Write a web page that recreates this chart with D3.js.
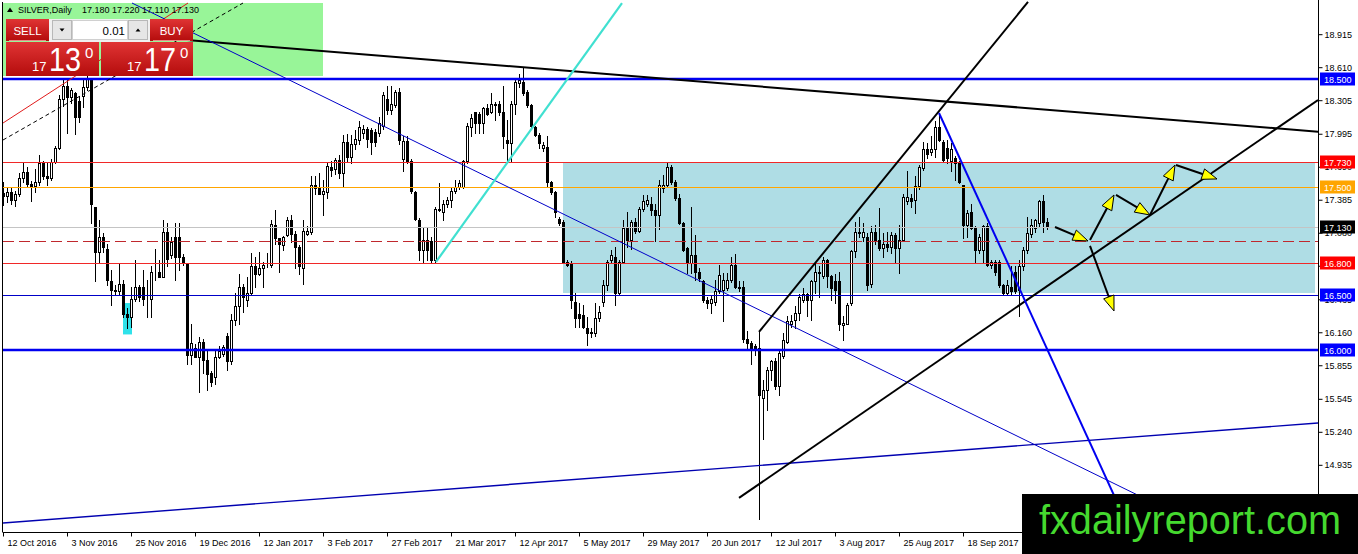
<!DOCTYPE html>
<html>
<head>
<meta charset="utf-8">
<script src="https://cdn.jsdelivr.net/npm/d3@7"></script>
<style>
html,body{margin:0;padding:0;background:#fff;overflow:hidden}
svg{display:block}
</style>
</head>
<body>
<div id="chart"></div>
<script>
// header
const symbolName = 'SILVER,Daily';
const quote = ['17.180', '17.220', '17.110', '17.130'];
const lotSize = '0.01';
const sellPrice = ['17', '13', '0'];
const buyPrice = ['17', '17', '0'];

// x axis: bar index of each date label
const dateBars = [0, 16, 32, 48, 64, 80, 96, 112, 128, 144, 160, 176, 192, 208, 224, 240];
const dateLabels = ['12 Oct 2016', '3 Nov 2016', '25 Nov 2016', '19 Dec 2016', '12 Jan 2017', '3 Feb 2017',
	'27 Feb 2017', '21 Mar 2017', '12 Apr 2017', '5 May 2017', '29 May 2017', '20 Jun 2017',
	'12 Jul 2017', '3 Aug 2017', '25 Aug 2017', '18 Sep 2017'];

// y axis
const priceTicks = [18.915, 18.610, 18.305, 17.995, 17.690, 17.385, 17.080, 16.775, 16.465,
	16.160, 15.855, 15.545, 15.240, 14.935, 14.630];

// daily candles
const open = [
17.45,17.42,17.46,17.38,17.44,17.59,17.64,17.53,17.51,17.55,
17.72,17.60,17.59,17.73,17.86,18.32,18.44,18.33,18.37,18.30,
18.34,18.43,18.49,17.32,16.90,17.04,16.93,16.63,16.55,16.54,
16.61,16.33,16.30,16.47,16.58,16.58,16.47,16.47,16.72,16.72,
16.67,17.09,16.87,17.04,17.04,16.86,16.80,15.95,16.01,15.93,
16.07,15.90,15.78,15.75,15.93,15.96,16.13,15.89,16.27,16.40,
16.58,16.46,16.52,16.77,16.70,16.75,16.78,16.78,17.15,17.03,
16.97,17.06,17.20,17.07,16.95,16.75,17.07,17.09,17.52,17.49,
17.44,17.46,17.69,17.67,17.75,17.63,17.92,17.78,17.90,17.94,
18.00,18.04,18.03,18.01,18.00,18.07,18.32,18.21,18.26,18.38,
17.76,17.93,17.74,17.46,17.20,16.92,17.01,17.00,16.83,17.30,
17.27,17.35,17.38,17.47,17.50,17.50,17.74,18.06,18.20,18.18,
18.09,18.23,18.20,18.26,18.27,18.20,17.94,17.91,18.27,18.46,
18.475,18.38,18.26,18.06,17.98,17.86,17.87,17.55,17.46,17.21,
17.18,16.81,16.80,16.44,16.33,16.32,16.20,16.15,16.15,16.29,
16.44,16.60,16.83,16.86,16.52,16.81,17.12,17.01,17.18,17.10,
17.30,17.35,17.35,17.29,17.24,17.49,17.52,17.69,17.55,17.40,
17.17,16.94,16.80,16.87,16.72,16.63,16.46,16.43,16.44,16.54,
16.55,16.57,16.64,16.78,16.58,16.58,16.10,16.06,16.03,16.01,
15.55,15.63,15.81,15.89,15.66,15.94,16.07,16.24,16.27,16.34,
16.46,16.51,16.46,16.63,16.71,16.68,16.83,16.68,16.63,16.63,
16.23,16.24,16.43,16.91,17.08,17.04,17.04,16.61,17.09,17.01,
16.94,16.98,16.95,17.06,16.94,17.01,17.37,17.40,17.38,17.51,
17.68,17.85,17.83,17.85,18.06,17.92,17.86,17.74,17.77,17.72,
17.52,17.15,17.27,17.12,16.92,16.92,17.14,16.78,16.81,16.81,
16.60,16.52,16.58,16.72,16.55,16.77,16.92,17.07,17.12,17.17,
17.37,17.18];
const high = [
17.55,17.50,17.50,17.47,17.63,17.73,17.69,17.56,17.67,17.80,
17.74,17.72,17.76,17.88,18.35,18.50,18.49,18.42,18.38,18.34,
18.49,18.55,18.51,17.32,17.20,17.08,16.98,16.74,16.60,16.80,
16.64,16.38,16.58,16.83,16.60,16.74,16.64,16.77,16.93,16.83,
17.20,17.17,17.04,17.17,17.17,16.88,16.80,16.24,16.05,16.12,
16.10,15.99,15.80,15.99,16.03,16.04,16.15,16.33,16.52,16.70,
16.61,16.67,16.89,16.86,16.90,16.81,16.89,17.20,17.29,17.03,
17.05,17.23,17.24,17.10,16.97,17.20,17.14,17.60,17.60,17.63,
17.57,17.72,17.74,17.77,17.80,17.98,17.99,17.98,18.03,18.11,
18.08,18.06,18.05,18.04,18.15,18.38,18.44,18.44,18.40,18.42,
17.97,17.97,17.76,17.47,17.22,17.12,17.12,17.04,17.32,17.54,
17.38,17.41,17.50,17.57,17.57,17.75,18.09,18.18,18.20,18.20,
18.24,18.27,18.37,18.29,18.30,18.44,18.12,18.30,18.51,18.55,
18.61,18.40,18.27,18.07,18.00,17.92,17.97,17.56,17.47,17.23,
17.20,16.83,16.82,16.52,16.43,16.41,16.30,16.20,16.43,16.40,
16.64,16.83,16.92,16.95,16.83,17.20,17.27,17.20,17.22,17.32,
17.43,17.43,17.41,17.35,17.57,17.61,17.72,17.71,17.57,17.44,
17.18,16.95,17.32,17.06,16.75,16.64,16.49,16.50,16.64,16.78,
16.71,16.71,16.86,16.88,16.63,16.63,16.17,16.08,16.05,16.17,
15.72,15.84,15.90,15.92,16.00,16.15,16.31,16.32,16.40,16.51,
16.57,16.52,16.64,16.80,16.77,16.86,16.84,16.69,16.70,16.72,
16.31,16.43,16.92,17.18,17.23,17.17,17.08,17.14,17.15,17.31,
17.08,17.09,17.09,17.08,17.15,17.44,17.65,17.44,17.60,17.71,
17.92,17.91,17.97,18.11,18.18,17.94,17.94,17.91,17.79,17.74,
17.52,17.29,17.35,17.14,17.07,17.15,17.17,16.83,16.83,16.83,
16.61,16.64,16.77,16.77,16.83,16.95,17.23,17.21,17.21,17.38,
17.43,17.22];
const low = [
17.34,17.36,17.35,17.33,17.42,17.55,17.50,17.37,17.46,17.52,
17.58,17.52,17.57,17.72,17.85,18.25,18.00,18.28,17.99,18.10,
18.24,18.40,17.17,16.63,16.80,16.90,16.60,16.41,16.50,16.50,
16.30,16.20,16.21,16.45,16.45,16.41,16.30,16.30,16.64,16.67,
16.67,16.77,16.85,16.64,16.74,16.78,15.87,15.87,15.93,15.61,
15.78,15.63,15.66,15.68,15.92,15.94,15.81,15.87,16.23,16.24,
16.35,16.40,16.50,16.58,16.69,16.58,16.76,16.76,16.98,16.72,
16.92,17.05,16.99,16.75,16.70,16.61,17.06,17.07,17.44,17.44,
17.24,17.40,17.60,17.62,17.59,17.50,17.74,17.72,17.85,17.90,
17.96,17.87,17.81,17.88,17.97,18.04,18.18,18.18,18.24,17.90,
17.65,17.72,17.45,17.20,16.83,16.80,16.83,16.80,16.80,17.28,
17.20,17.32,17.32,17.45,17.48,17.49,17.72,17.97,18.00,18.00,
18.00,18.17,18.19,18.12,18.17,17.86,17.74,17.74,18.18,18.43,
18.35,18.24,18.06,17.97,17.86,17.84,17.50,17.44,17.23,17.15,
16.80,16.77,16.38,16.21,16.21,16.20,16.04,16.12,16.13,16.26,
16.40,16.55,16.80,16.41,16.50,16.80,16.95,16.93,17.08,17.09,
17.28,17.33,17.24,17.00,17.11,17.46,17.50,17.53,17.38,17.16,
16.91,16.71,16.71,16.64,16.63,16.44,16.38,16.34,16.41,16.52,
16.26,16.55,16.62,16.57,16.54,16.07,16.01,15.87,15.95,14.43,
15.17,15.44,15.72,15.64,15.58,15.92,16.06,16.21,16.20,16.27,
16.44,16.31,16.27,16.52,16.49,16.66,16.58,16.46,16.43,16.18,
16.09,16.24,16.41,16.86,17.04,17.00,16.55,16.58,16.98,16.92,
16.86,16.91,16.89,16.80,16.71,17.00,17.35,17.32,17.26,17.48,
17.66,17.77,17.80,17.78,17.93,17.74,17.72,17.65,17.57,17.54,
17.03,17.04,17.11,16.81,16.89,16.80,16.77,16.75,16.69,16.58,
16.50,16.50,16.51,16.52,16.31,16.74,16.89,17.04,17.09,17.14,
17.09,17.11];
const close = [
17.42,17.46,17.38,17.44,17.59,17.64,17.53,17.51,17.55,17.72,
17.60,17.59,17.73,17.86,18.32,18.44,18.33,18.40,18.15,18.15,
18.43,18.51,17.35,16.90,17.04,16.95,16.64,16.55,16.54,16.61,
16.33,16.30,16.47,16.58,16.49,16.47,16.47,16.72,16.72,16.67,
17.09,16.84,16.99,16.86,16.86,16.80,15.95,16.06,15.93,16.07,
15.90,15.77,15.70,15.93,15.99,16.02,15.89,16.27,16.40,16.58,
16.49,16.52,16.77,16.70,16.75,16.78,16.78,17.16,17.03,16.98,
17.04,17.20,17.07,16.95,16.77,17.10,17.10,17.52,17.49,17.44,
17.47,17.70,17.66,17.75,17.63,17.92,17.78,17.90,17.95,18.06,
18.04,17.95,17.92,17.92,18.09,18.35,18.21,18.27,18.38,17.94,
17.93,17.74,17.47,17.21,16.92,17.01,16.92,16.83,17.30,17.29,
17.35,17.38,17.47,17.50,17.54,17.74,18.07,18.14,18.09,18.09,
18.23,18.18,18.27,18.27,18.20,17.97,17.91,18.27,18.475,18.49,
18.37,18.26,18.07,17.98,17.905,17.89,17.55,17.46,17.27,17.17,
16.81,16.78,16.46,16.29,16.29,16.21,16.15,16.165,16.29,16.35,
16.60,16.81,16.87,16.52,16.81,17.12,17.01,17.18,17.10,17.30,
17.37,17.38,17.29,17.24,17.52,17.52,17.69,17.55,17.40,17.17,
16.92,16.80,16.87,16.72,16.66,16.46,16.43,16.47,16.54,16.69,
16.64,16.64,16.78,16.58,16.57,16.10,16.06,16.01,16.01,15.58,
15.63,15.81,15.89,15.66,15.97,16.09,16.26,16.26,16.34,16.49,
16.51,16.46,16.63,16.72,16.72,16.83,16.68,16.57,16.55,16.24,
16.25,16.41,16.91,17.09,17.09,17.09,16.60,17.09,17.01,16.94,
16.98,16.95,17.06,16.94,17.01,17.41,17.41,17.37,17.51,17.69,
17.85,17.81,17.85,18.06,17.94,17.75,17.77,17.85,17.72,17.55,
17.15,17.26,17.12,16.92,17.04,17.14,16.78,16.81,16.72,16.60,
16.52,16.60,16.54,16.54,16.77,16.92,17.08,17.15,17.20,17.37,
17.18,17.13];

// horizontal levels and their price tags
const levels = [18.5, 17.73, 17.5, 17.13, 17.0, 16.8, 16.5, 16.0];
const tagLevels = [18.5, 17.73, 17.5, 17.13, 16.8, 16.5, 16.0];

// rectangles [bar0, bar1, priceLow, priceHigh]
const zoneBox = [140, 328, 16.523, 17.73];
const markBox = [30, 32.25, 16.14, 16.43];

// trend lines [[bar, price], [bar, price]]
const trendLines = [
	[[40, 18.879], [328.75, 18.014]],
	[[0, 18.094], [46.25, 19.203]],
	[[0, 17.937], [60, 19.203]],
	[[32.25, 19.203], [300, 14.36]],
	[[0, 14.397], [328.75, 15.322]],
	[[108.25, 16.81], [154.75, 19.203]],
	[[189, 16.163], [256.25, 19.213]],
	[[184, 14.629], [328.75, 18.307]],
	[[234, 18.187], [282, 14.31]]
];

// forecast arrows
const arrows = [
	[[263, 17.133], [271.25, 17.004]],
	[[271.75, 17.013], [277.75, 17.429]],
	[[278.25, 17.429], [286.75, 17.244]],
	[[286.75, 17.244], [293, 17.706]],
	[[293.25, 17.706], [303.5, 17.577]],
	[[271.75, 16.958], [277.75, 16.357]]
];

const logoText = 'fxdailyreport.com';

const W = 1358, H = 554;
const FONT = '"Liberation Sans", Arial, sans-serif';
const plot = {l: 3, r: 1318, t: 1, b: 532};

const x = d3.scaleLinear().domain([0, 328.75]).range([3, 1318]);
const y = d3.scaleLinear().domain([14.63, 18.915]).range([497.8, 34.2]);

const svg = d3.select('#chart').append('svg')
	.attr('width', W)
	.attr('height', H)
	.style('font-family', FONT);

const defs = svg.append('defs');
defs.append('clipPath').attr('id', 'plotclip')
	.append('rect')
	.attr('x', plot.l).attr('y', plot.t)
	.attr('width', plot.r - plot.l).attr('height', plot.b - plot.t);
const grad = defs.append('linearGradient').attr('id', 'redgrad')
	.attr('x1', 0).attr('y1', 0).attr('x2', 0).attr('y2', 1);
grad.append('stop').attr('offset', 0).attr('stop-color', '#e03434');
grad.append('stop').attr('offset', 1).attr('stop-color', '#b40c0c');

svg.append('rect').attr('width', W).attr('height', H).attr('fill', '#fff');

const g = svg.append('g').attr('clip-path', 'url(#plotclip)');

// green header background
g.append('rect')
	.attr('x', 3).attr('y', 3).attr('width', 320).attr('height', 73)
	.attr('fill', '#98f598');

// rectangles
function box(b, fill){
	g.append('rect')
		.attr('x', x(b[0]))
		.attr('y', y(b[3]))
		.attr('width', x(b[1]) - x(b[0]))
		.attr('height', y(b[2]) - y(b[3]))
		.attr('fill', fill);
}
box(zoneBox, '#afdde5');
box(markBox, '#2fe2ea');

// candles
const n = Math.min(open.length, high.length, low.length, close.length);
const bars = d3.range(n).map(i => ({i: i, o: open[i], h: high[i], l: low[i], c: close[i]}));

const candles = g.append('g').attr('class', 'candles')
	.selectAll('g')
	.data(bars)
	.join('g');

candles.append('line')
	.attr('x1', d => Math.round(x(d.i)) + 0.5)
	.attr('x2', d => Math.round(x(d.i)) + 0.5)
	.attr('y1', d => Math.round(y(d.h)))
	.attr('y2', d => Math.round(y(d.l)) + 1)
	.attr('stroke', '#000')
	.attr('stroke-width', 1);

candles.append('rect')
	.attr('x', d => Math.round(x(d.i)) - 0.5)
	.attr('y', d => Math.round(y(Math.max(d.o, d.c))) + 0.5)
	.attr('width', 2)
	.attr('height', d => Math.max(Math.round(y(Math.min(d.o, d.c))) - Math.round(y(Math.max(d.o, d.c))), 0))
	.attr('fill', d => d.c >= d.o ? '#fff' : '#000')
	.attr('stroke', '#000')
	.attr('stroke-width', 1);

// horizontal levels
const levelStyle = [
	{c: '#0000f0', w: 2.5},
	{c: '#f02828', w: 1},
	{c: '#ffa500', w: 1},
	{c: '#c4c4c4', w: 1},
	{c: '#c0282d', w: 1, dash: '11,5'},
	{c: '#f02828', w: 1},
	{c: '#0000c8', w: 1},
	{c: '#0000f0', w: 2.5}
];
g.append('g').selectAll('line')
	.data(levels)
	.join('line')
	.attr('x1', plot.l)
	.attr('x2', plot.r)
	.attr('y1', (d, i) => Math.round(y(d)) + (levelStyle[i].w === 1 ? 0.5 : 0))
	.attr('y2', (d, i) => Math.round(y(d)) + (levelStyle[i].w === 1 ? 0.5 : 0))
	.attr('stroke', (d, i) => levelStyle[i].c)
	.attr('stroke-width', (d, i) => levelStyle[i].w)
	.attr('stroke-dasharray', (d, i) => levelStyle[i].dash || null);

// trend lines
const lineStyle = [
	{c: '#000', w: 2},
	{c: '#e01a1a', w: 1},
	{c: '#000', w: 1, dash: '4,3'},
	{c: '#0000c8', w: 1},
	{c: '#0000b0', w: 1.4},
	{c: '#40e0d0', w: 2.2},
	{c: '#000', w: 2},
	{c: '#000', w: 2},
	{c: '#0000f0', w: 2}
];
g.append('g').selectAll('line')
	.data(trendLines)
	.join('line')
	.attr('x1', d => x(d[0][0]))
	.attr('y1', d => y(d[0][1]))
	.attr('x2', d => x(d[1][0]))
	.attr('y2', d => y(d[1][1]))
	.attr('stroke', (d, i) => lineStyle[i].c)
	.attr('stroke-width', (d, i) => lineStyle[i].w)
	.attr('stroke-dasharray', (d, i) => lineStyle[i].dash || null);

// arrows
const arrowG = g.append('g');
arrows.forEach(a => {
	const x0 = x(a[0][0]), y0 = y(a[0][1]), x1 = x(a[1][0]), y1 = y(a[1][1]);
	const len = Math.hypot(x1 - x0, y1 - y0);
	const ux = (x1 - x0) / len, uy = (y1 - y0) / len;
	const hl = 15, hw = 5.5;
	const bx = x1 - ux * hl, by = y1 - uy * hl;
	arrowG.append('line')
		.attr('x1', x0).attr('y1', y0).attr('x2', bx + ux * 2).attr('y2', by + uy * 2)
		.attr('stroke', '#000').attr('stroke-width', 2);
	arrowG.append('path')
		.attr('d', `M${x1},${y1}L${bx - uy * hw},${by + ux * hw}L${bx + uy * hw},${by - ux * hw}Z`)
		.attr('fill', '#ffff00')
		.attr('stroke', '#000')
		.attr('stroke-width', 1);
});

// header line
const head = svg.append('g').attr('font-size', 9).attr('fill', '#000');
head.append('path').attr('d', 'M7,12L10,7.5L13,12Z').attr('fill', '#000');
head.append('text').attr('x', 18).attr('y', 12.5).text(symbolName);
head.append('text').attr('x', 82).attr('y', 12.5).text(quote.join(' '));

// one click trading panel
const panel = svg.append('g');
panel.append('rect').attr('x', 49).attr('y', 19).attr('width', 101).attr('height', 23).attr('fill', '#f0f0f0');
panel.append('rect').attr('x', 6).attr('y', 19).attr('width', 43).attr('height', 22).attr('fill', 'url(#redgrad)');
panel.append('rect').attr('x', 150).attr('y', 19).attr('width', 43).attr('height', 22).attr('fill', 'url(#redgrad)');
panel.append('line').attr('x1', 9).attr('x2', 46).attr('y1', 40.5).attr('y2', 40.5).attr('stroke', '#e88').attr('stroke-width', 1);
panel.append('line').attr('x1', 153).attr('x2', 190).attr('y1', 40.5).attr('y2', 40.5).attr('stroke', '#e88').attr('stroke-width', 1);
panel.append('rect').attr('x', 52.5).attr('y', 20.5).attr('width', 19).attr('height', 19).attr('fill', '#e6e6e6').attr('stroke', '#b8b8b8');
panel.append('rect').attr('x', 72.5).attr('y', 20.5).attr('width', 55).attr('height', 19).attr('fill', '#fff').attr('stroke', '#d0d0d0');
panel.append('rect').attr('x', 128.5).attr('y', 20.5).attr('width', 19).attr('height', 19).attr('fill', '#e6e6e6').attr('stroke', '#b8b8b8');
panel.append('path').attr('d', 'M59.5,28.5L64.5,28.5L62,31.5Z').attr('fill', '#000');
panel.append('path').attr('d', 'M135.5,31.5L140.5,31.5L138,28.5Z').attr('fill', '#000');
panel.append('text').attr('x', 125).attr('y', 34.5).attr('text-anchor', 'end').attr('font-size', 11.5).attr('fill', '#000').text(lotSize);
panel.append('text').attr('x', 27.5).attr('y', 35).attr('text-anchor', 'middle').attr('font-size', 11.5).attr('fill', '#fff').text('SELL');
panel.append('text').attr('x', 171.5).attr('y', 35).attr('text-anchor', 'middle').attr('font-size', 11.5).attr('fill', '#fff').text('BUY');

function priceBox(x0, w, p){
	panel.append('rect').attr('x', x0).attr('y', 42).attr('width', w).attr('height', 34).attr('fill', 'url(#redgrad)');
	panel.append('text').attr('x', x0 + 26).attr('y', 71).attr('font-size', 13).attr('fill', '#fff').text(p[0]);
	panel.append('text').attr('x', x0 + 43).attr('y', 70.5).attr('font-size', 34)
		.attr('textLength', 32).attr('lengthAdjust', 'spacingAndGlyphs').attr('fill', '#fff').text(p[1]);
	panel.append('text').attr('x', x0 + 79).attr('y', 58).attr('font-size', 15).attr('fill', '#fff').text(p[2]);
}
priceBox(6, 93, sellPrice);
priceBox(101, 92, buyPrice);

// frame
svg.append('line').attr('x1', 2.5).attr('x2', 2.5).attr('y1', 2).attr('y2', plot.b).attr('stroke', '#000');
svg.append('line').attr('x1', 2.5).attr('x2', 1318.5).attr('y1', plot.b + 0.5).attr('y2', plot.b + 0.5).attr('stroke', '#000');
svg.append('line').attr('x1', 1318.5).attr('x2', 1318.5).attr('y1', 0).attr('y2', plot.b + 1).attr('stroke', '#000');

// price axis
const axisY = d3.axisRight(y)
	.tickValues(priceTicks)
	.tickFormat(d3.format('.3f'))
	.tickSize(4)
	.tickSizeOuter(0);
const axisYNode = svg.append('g')
	.attr('transform', 'translate(1318.5,0)')
	.call(axisY);
axisYNode.select('.domain').remove();
axisYNode.attr('font-family', FONT).attr('font-size', 9);
axisYNode.selectAll('.tick text').attr('x', 6).attr('fill', '#000');
axisYNode.selectAll('.tick line').attr('stroke', '#000');

// date axis
const axisX = d3.axisBottom(x)
	.tickValues(dateBars)
	.tickFormat((d, i) => dateLabels[i])
	.tickSize(4)
	.tickSizeOuter(0);
const axisXNode = svg.append('g')
	.attr('transform', `translate(0,${plot.b + 0.5})`)
	.call(axisX);
axisXNode.select('.domain').remove();
axisXNode.attr('font-family', FONT).attr('font-size', 9);
axisXNode.selectAll('.tick text').attr('text-anchor', 'start').attr('x', 4).attr('fill', '#000');
axisXNode.selectAll('.tick line').attr('stroke', '#000');

// price tags on the axis
const tagColor = ['#0000ff', '#ff0000', '#ffa500', '#000000', '#ff0000', '#0000ff', '#0000ff'];
const tags = svg.append('g').selectAll('g')
	.data(tagLevels)
	.join('g')
	.attr('transform', d => `translate(1320,${Math.round(y(d))})`);
tags.append('rect')
	.attr('x', 0).attr('y', -6.5).attr('width', 35).attr('height', 13)
	.attr('fill', (d, i) => tagColor[i]);
tags.append('text')
	.attr('x', 4).attr('y', 3.5)
	.attr('font-size', 9)
	.attr('fill', '#fff')
	.text(d => d3.format('.3f')(d));

// logo
svg.append('rect').attr('x', 1022).attr('y', 494).attr('width', W - 1022).attr('height', H - 494).attr('fill', '#000');
svg.append('text')
	.attr('x', 1039).attr('y', 534)
	.attr('font-size', 41)
	.attr('textLength', 302)
	.attr('lengthAdjust', 'spacingAndGlyphs')
	.attr('fill', '#45d92f')
	.text(logoText);
</script>
</body>
</html>
